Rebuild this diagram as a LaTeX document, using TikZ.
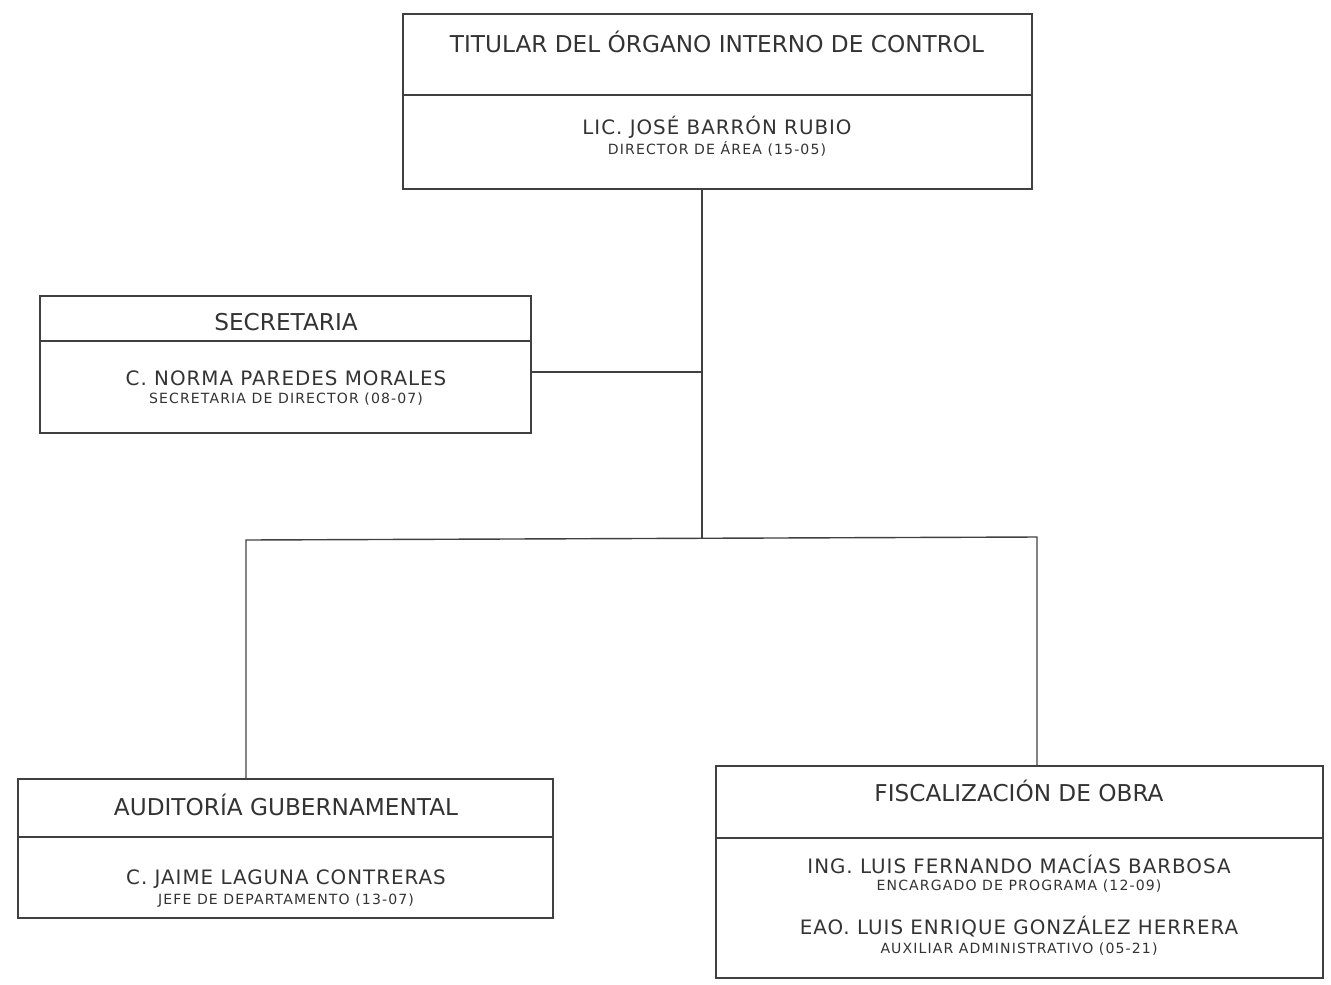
\documentclass[tikz,border=0pt]{standalone}
\usepackage{fontspec}
\setmainfont{DejaVu Sans}
\newfontfamily\nombrefont[LetterSpace=5]{DejaVu Sans}
\newfontfamily\cargofont[LetterSpace=8]{DejaVu Sans}
\begin{document}
\begin{tikzpicture}[x=0.02cm,y=-0.02cm,
    caja/.style={draw=black!75,line width=0.8pt,rectangle,inner sep=0pt},
    linea/.style={draw=black!75,line width=0.8pt},
    titulo/.style={font=\fontsize{13.2}{15}\selectfont,text=black!80,inner sep=0pt},
    nombre/.style={font=\nombrefont\fontsize{11.3}{13}\selectfont,text=black!80,inner sep=0pt},
    cargo/.style={font=\cargofont\fontsize{8}{9}\selectfont,text=black!80,inner sep=0pt}]
  \useasboundingbox (0,0) rectangle (1331,984);
  % cajas
  \node[caja,minimum width=12.58cm,minimum height=3.5cm] (titular) at (717.5,101.5) {};
  \node[caja,minimum width=9.82cm,minimum height=2.74cm] (secretaria) at (285.5,364.5) {};
  \node[caja,minimum width=10.7cm,minimum height=2.78cm] (auditoria) at (285.5,848.5) {};
  \node[caja,minimum width=12.14cm,minimum height=4.24cm] (fiscal) at (1019.5,872) {};
  % divisiones
  \coordinate (d1) at (0,95);
  \coordinate (d2) at (0,341);
  \coordinate (d3) at (0,837);
  \coordinate (d4) at (0,838);
  \draw[linea] (titular.west |- d1) -- (titular.east |- d1);
  \draw[linea] (secretaria.west |- d2) -- (secretaria.east |- d2);
  \draw[linea] (auditoria.west |- d3) -- (auditoria.east |- d3);
  \draw[linea] (fiscal.west |- d4) -- (fiscal.east |- d4);
  % textos
  \node[titulo] (t-titular) at (717,42) {TITULAR DEL ÓRGANO INTERNO DE CONTROL};
  \node[nombre] (n-titular) at (717,127) {LIC. JOSÉ BARRÓN RUBIO};
  \node[cargo] (c-titular) at (717,149) {DIRECTOR DE ÁREA (15-05)};
  \node[titulo] (t-secretaria) at (286,322) {SECRETARIA};
  \node[nombre] (n-secretaria) at (286,378) {C. NORMA PAREDES MORALES};
  \node[cargo] (c-secretaria) at (286,399) {SECRETARIA DE DIRECTOR (08-07)};
  \node[titulo] (t-auditoria) at (286,805) {AUDITORÍA GUBERNAMENTAL};
  \node[nombre] (n-auditoria) at (286,879) {C. JAIME LAGUNA CONTRERAS};
  \node[cargo] (c-auditoria) at (286,901) {JEFE DE DEPARTAMENTO (13-07)};
  \node[titulo] (t-fiscal) at (1019,791) {FISCALIZACIÓN DE OBRA};
  \node[nombre] (n-fiscal1) at (1019,864) {ING. LUIS FERNANDO MACÍAS BARBOSA};
  \node[cargo] (c-fiscal1) at (1019,886) {ENCARGADO DE PROGRAMA (12-09)};
  \node[nombre] (n-fiscal2) at (1019,927) {EAO. LUIS ENRIQUE GONZÁLEZ HERRERA};
  \node[cargo] (c-fiscal2) at (1019,949) {AUXILIAR ADMINISTRATIVO (05-21)};
  % conectores
  \coordinate (j1) at (702,372);
  \coordinate (j2) at (702,538);
  \coordinate (ra) at (246,540);
  \coordinate (rb) at (1037,537);
  \draw[linea] (titular.south -| j1) -- (j2);
  \draw[linea] (secretaria.east |- j1) -- (j1);
  \draw[linea] (auditoria.north -| ra) -- (ra) -- (rb) -- (fiscal.north -| rb);
\end{tikzpicture}
\end{document}
